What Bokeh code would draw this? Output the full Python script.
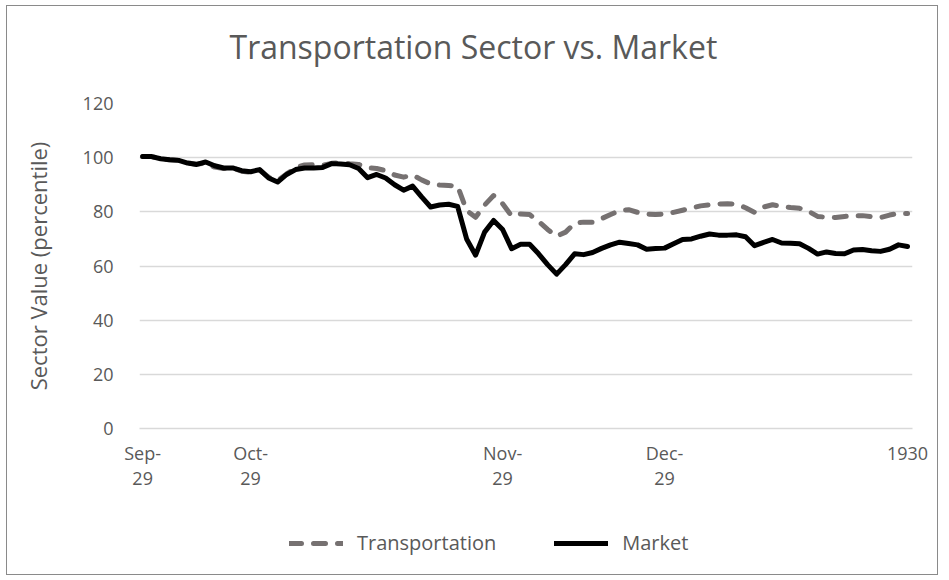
from bokeh.plotting import figure
from bokeh.layouts import column
from bokeh.models import Range1d, FixedTicker, Legend, LegendItem
from bokeh.embed import file_html
from bokeh.resources import INLINE

# ---- data (trading-day index) ----
market = [100.4, 100.4, 99.6, 99.2, 99.0, 98.0, 97.5, 98.4, 97.0, 96.2,
          96.2, 95.2, 94.8, 95.6, 92.5, 91.0, 93.8, 95.6, 96.2, 96.2,
          96.4, 97.8, 97.7, 97.4, 96.0, 92.6, 93.8, 92.5, 90.0, 88.0,
          89.5, 85.5, 81.8, 82.5, 82.8, 82.0, 70.0, 64.0, 72.5, 76.8,
          73.5, 66.4, 68.0, 68.0, 64.5, 60.5, 57.0, 60.5, 64.5, 64.2,
          65.0, 66.5, 67.8, 68.8, 68.3, 67.8, 66.2, 66.5, 66.6, 68.2,
          69.8, 70.0, 71.0, 71.8, 71.4, 71.4, 71.5, 70.8, 67.5, 68.7,
          69.8, 68.5, 68.4, 68.2, 66.5, 64.4, 65.2, 64.6, 64.5, 65.9,
          66.1, 65.6, 65.4, 66.2, 67.8, 67.2]
transportation = [100.4, 100.4, 99.6, 99.2, 99.0, 98.0, 97.6, 98.0, 96.5, 96.0,
                  96.2, 95.0, 94.6, 95.4, 92.8, 91.5, 94.0, 96.3, 97.3, 97.4,
                  97.2, 97.9, 98.2, 97.8, 97.5, 96.3, 96.0, 95.2, 93.6, 92.8,
                  93.6, 91.8, 90.3, 89.9, 89.7, 89.5, 80.5, 78.0, 82.5, 86.0,
                  83.0, 78.5, 79.2, 79.0, 76.5, 73.5, 71.0, 72.5, 75.8, 76.2,
                  76.2, 77.5, 79.0, 80.5, 80.8, 79.8, 79.2, 79.0, 79.2, 79.8,
                  80.6, 81.4, 82.2, 82.6, 82.9, 83.0, 82.8, 81.5, 79.8, 81.8,
                  82.6, 82.0, 81.6, 81.3, 80.2, 78.3, 78.0, 77.9, 78.3, 78.6,
                  78.6, 78.2, 77.9, 78.8, 79.4, 79.4]
days = list(range(len(market)))

tick_days = [0, 12, 40, 58, 85]
tick_labels = ["Sep-\n29", "Oct-\n29", "Nov-\n29", "Dec-\n29", "1930"]
y_ticks = [0, 20, 40, 60, 80, 100, 120]
series_names = ["Transportation", "Market"]
chart_title = "Transportation Sector vs. Market"

TEXT = "#595959"
FONT = "Open Sans"
GRAY = "#767171"

# header strip holding the title
hf = figure(width=930, height=83, output_backend="svg", toolbar_location=None,
            x_axis_location=None, y_axis_location=None, min_border=0,
            x_range=Range1d(0, 1), y_range=Range1d(0, 1), title=chart_title)
hf.outline_line_color = None
hf.grid.visible = False
hf.border_fill_color = "white"
hf.background_fill_color = "white"
hf.title.align = "left"
hf.title.offset = 90
hf.title.vertical_align = "top"
hf.title.text_font = FONT
hf.title.text_font_size = "32px"
hf.title.text_font_style = "normal"
hf.title.text_color = TEXT
hf.title.standoff = 36

p = figure(width=930, height=405, output_backend="svg", toolbar_location=None,
           x_range=Range1d(-0.35, 85.55), y_range=Range1d(0, 120),
           min_border_left=132, min_border_right=25,
           min_border_top=14, min_border_bottom=66)
p.outline_line_color = None
p.background_fill_color = "white"
p.border_fill_color = "white"

# axes
p.xaxis.ticker = FixedTicker(ticks=tick_days)
p.xaxis.major_label_overrides = {d: l for d, l in zip(tick_days, tick_labels)}
p.xaxis.axis_line_color = "#d9d9d9"
p.xaxis.axis_line_width = 1.3
p.xaxis.major_tick_line_color = None
p.xaxis.minor_tick_line_color = None
p.xaxis.major_label_standoff = 6
p.xaxis.major_label_text_line_height = 1.07
p.xaxis.major_label_text_font = FONT
p.xaxis.major_label_text_font_size = "18px"
p.xaxis.major_label_text_color = TEXT

p.yaxis.ticker = FixedTicker(ticks=y_ticks)
p.yaxis.axis_line_color = None
p.yaxis.major_tick_line_color = None
p.yaxis.minor_tick_line_color = None
p.yaxis.major_label_standoff = 20
p.yaxis.major_label_text_font = FONT
p.yaxis.major_label_text_font_size = "18px"
p.yaxis.major_label_text_color = TEXT
p.yaxis.axis_label = "Sector Value (percentile)"
p.yaxis.axis_label_text_font = FONT
p.yaxis.axis_label_text_font_size = "22px"
p.yaxis.axis_label_text_font_style = "normal"
p.yaxis.axis_label_text_color = TEXT
p.yaxis.axis_label_standoff = 27

p.xgrid.grid_line_color = None
p.ygrid.ticker = FixedTicker(ticks=y_ticks)
p.ygrid.grid_line_color = "#d9d9d9"
p.ygrid.grid_line_width = 1.3

line_styles = [dict(line_color=GRAY, line_width=5, line_dash="12 12",
                    line_cap="round", line_join="round"),
               dict(line_color="black", line_width=5,
                    line_cap="round", line_join="round")]

p.line(days, transportation, **line_styles[0])
p.line(days, market, **line_styles[1])

# legend strip below the chart (same line styles; its own lines lie outside its view)
lf = figure(width=930, height=80, output_backend="svg", toolbar_location=None,
            x_axis_location=None, y_axis_location=None, min_border=0,
            x_range=Range1d(10, 11), y_range=Range1d(10, 11))
lf.outline_line_color = None
lf.grid.visible = False
lf.border_fill_color = "white"
lf.background_fill_color = "white"
leg_r = [lf.line([0, 1], [0, 0], **st) for st in line_styles]

legend = Legend(items=[LegendItem(label=n, renderers=[r])
                       for n, r in zip(series_names, leg_r)],
                orientation="horizontal", location=(150, 18),
                label_text_font=FONT, label_text_font_size="20px",
                label_text_color=TEXT, glyph_width=54, label_standoff=14,
                spacing=58, border_line_color=None, background_fill_alpha=0,
                margin=0, padding=0)
lf.add_layout(legend, "center")

layout = column(hf, p, lf, spacing=0, margin=(5, 0, 0, 6),
                styles={"border": "1px solid #8a8a8a"})

open("out.html", "w").write(file_html(layout, INLINE))
